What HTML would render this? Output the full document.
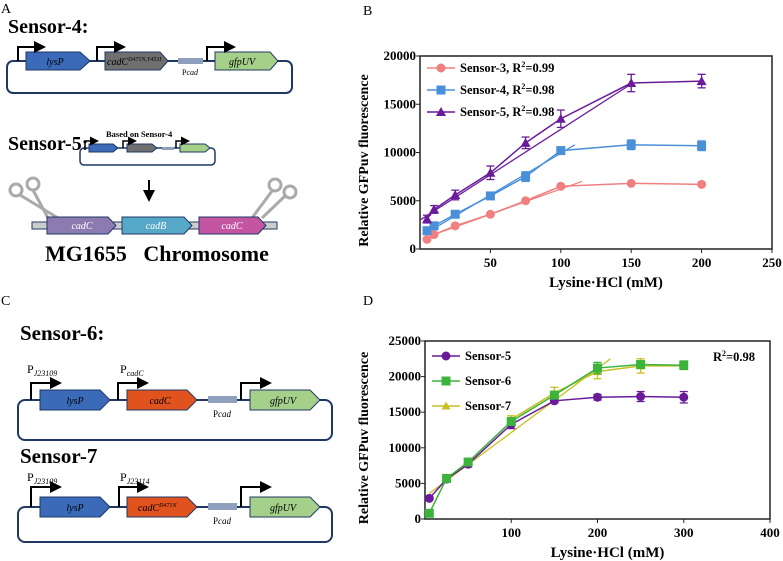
<!DOCTYPE html>
<html><head><meta charset="utf-8"><style>
body{margin:0;background:#fff;width:783px;height:561px;overflow:hidden;font-family:"Liberation Serif",serif}
svg{position:absolute;left:0;top:0}
text{font-family:"Liberation Serif",serif}
</style></head><body>
<svg id="fig" width="783" height="561">
<defs>
<marker id="ah" markerWidth="6" markerHeight="6" refX="4" refY="3" orient="auto"><path d="M0,0 L6,3 L0,6 z" fill="#000"/></marker>
</defs>
<text x="1" y="13" font-size="14" font-family="Liberation Sans">A</text>
<text x="363" y="15" font-size="14" font-family="Liberation Sans">B</text>
<text x="1" y="305" font-size="14" font-family="Liberation Sans">C</text>
<text x="363" y="305" font-size="14" font-family="Liberation Sans">D</text>

<g id="diagA">
<text x="8" y="33" font-size="20" font-weight="bold">Sensor-4:</text>
<rect x="7" y="61" width="285" height="32" rx="6" fill="none" stroke="#1f3864" stroke-width="2"/>
<g>
<path d="M26,52 H80 L90,61 L80,70 H26 Z" fill="#3a6ab8" stroke="#1f3864"/>
<text x="55" y="65" font-size="10" font-style="italic" text-anchor="middle">lysP</text>
<path d="M105,52 H160 L168,61 L160,70 H105 Z" fill="#6f6f6f" stroke="#1f3864"/>
<text x="107" y="65" font-size="10" font-style="italic">cadC<tspan font-size="6" dy="-4">D471N,Y453I</tspan></text>
<rect x="178" y="58" width="25" height="6" fill="#8ea0bd"/>
<text x="190" y="75" font-size="8" text-anchor="middle">P<tspan font-style="italic">cad</tspan></text>
<path d="M215,52 H270 L278,61 L270,70 H215 Z" fill="#a4d08a" stroke="#1f3864"/>
<text x="242" y="65" font-size="10" font-style="italic" text-anchor="middle">gfpUV</text>
<path d="M18,61 V47 H42" fill="none" stroke="#000" stroke-width="2" marker-end="url(#ah)"/>
<path d="M97,61 V47 H122" fill="none" stroke="#000" stroke-width="2" marker-end="url(#ah)"/>
<path d="M207,61 V47 H232" fill="none" stroke="#000" stroke-width="2" marker-end="url(#ah)"/>
</g>
<text x="8" y="150" font-size="20" font-weight="bold">Sensor-5:</text>
<text x="106" y="137" font-size="8.5" font-weight="bold">Based on Sensor-4</text>
<rect x="80" y="148" width="135" height="17" rx="4" fill="none" stroke="#1f3864" stroke-width="1.5"/>
<g>
<path d="M89,144 H113 L118,148 L113,152 H89 Z" fill="#3a6ab8" stroke="#1f3864"/>
<path d="M127,144 H152 L157,148 L152,152 H127 Z" fill="#6f6f6f" stroke="#1f3864"/>
<rect x="162" y="147" width="12" height="3" fill="#8ea0bd"/>
<path d="M180,144 H205 L210,148 L205,152 H180 Z" fill="#a4d08a" stroke="#1f3864"/>
<path d="M85,148 V141 H96" fill="none" stroke="#000" stroke-width="1.5" marker-end="url(#ah)"/>
<path d="M123,148 V141 H134" fill="none" stroke="#000" stroke-width="1.5" marker-end="url(#ah)"/>
<path d="M176,148 V141 H187" fill="none" stroke="#000" stroke-width="1.5" marker-end="url(#ah)"/>
</g>
<line x1="149" y1="180" x2="149" y2="198" stroke="#000" stroke-width="2" marker-end="url(#ah)"/>
<g stroke="#aaa" fill="none" stroke-width="3">
<circle cx="16" cy="190" r="6"/><circle cx="33" cy="184" r="6"/>
<line x1="20" y1="195" x2="58" y2="218"/><line x1="33" y1="190" x2="48" y2="218"/>
</g>
<g stroke="#aaa" fill="none" stroke-width="3">
<circle cx="275" cy="185" r="6"/><circle cx="290" cy="192" r="6"/>
<line x1="272" y1="191" x2="252" y2="218"/><line x1="285" y1="196" x2="262" y2="218"/>
</g>
<rect x="32" y="222" width="245" height="7" fill="#ccc" stroke="#1f3864"/>
<path d="M47,217 H108 L116,225.5 L108,234 H47 Z" fill="#8b7bb0" stroke="#1f3864"/>
<text x="82" y="229" font-size="10" font-style="italic" fill="#fff" text-anchor="middle">cadC</text>
<path d="M122,217 H184 L192,225.5 L184,234 H122 Z" fill="#55a8c8" stroke="#1f3864"/>
<text x="156" y="229" font-size="10" font-style="italic" fill="#fff" text-anchor="middle">cadB</text>
<path d="M199,217 H258 L266,225.5 L258,234 H199 Z" fill="#c455a0" stroke="#1f3864"/>
<text x="232" y="229" font-size="10" font-style="italic" fill="#fff" text-anchor="middle">cadC</text>
<text x="45" y="261" font-size="22" font-weight="bold" xml:space="preserve">MG1655   Chromosome</text>
</g>

<g id="diagC">
<text x="20" y="340" font-size="21" font-weight="bold">Sensor-6:</text>
<rect x="18" y="400" width="314" height="40" rx="7" fill="none" stroke="#1f3864" stroke-width="2"/>
<path d="M40,390 H100 L110,400 L100,410 H40 Z" fill="#3a6ab8" stroke="#1f3864"/>
<text x="75" y="404" font-size="10" font-style="italic" text-anchor="middle">lysP</text>
<path d="M127,390 H187 L197,400 L187,410 H127 Z" fill="#e0521e" stroke="#1f3864"/>
<text x="160" y="404" font-size="10" font-style="italic" text-anchor="middle">cadC</text>
<rect x="208" y="396" width="29" height="7" fill="#8ea0bd"/>
<text x="222" y="417" font-size="9" text-anchor="middle">P<tspan font-style="italic">cad</tspan></text>
<path d="M250,390 H310 L320,400 L310,410 H250 Z" fill="#a4d08a" stroke="#1f3864"/>
<text x="283" y="404" font-size="10" font-style="italic" text-anchor="middle">gfpUV</text>
<path d="M31,400 V383 H58" fill="none" stroke="#000" stroke-width="2" marker-end="url(#ah)"/>
<path d="M118,400 V383 H145" fill="none" stroke="#000" stroke-width="2" marker-end="url(#ah)"/>
<path d="M241,400 V383 H268" fill="none" stroke="#000" stroke-width="2" marker-end="url(#ah)"/>
<text x="27" y="373" font-size="12">P<tspan font-size="8" font-style="italic" dy="3">J23109</tspan></text>
<text x="120" y="373" font-size="12">P<tspan font-size="8" font-style="italic" dy="3">cadC</tspan></text>

<text x="20" y="463" font-size="21" font-weight="bold">Sensor-7</text>
<rect x="18" y="507" width="314" height="35" rx="7" fill="none" stroke="#1f3864" stroke-width="2"/>
<path d="M40,497 H100 L110,507 L100,517 H40 Z" fill="#3a6ab8" stroke="#1f3864"/>
<text x="75" y="511" font-size="10" font-style="italic" text-anchor="middle">lysP</text>
<path d="M127,497 H187 L197,507 L187,517 H127 Z" fill="#e0521e" stroke="#1f3864"/>
<text x="138" y="511" font-size="10" font-style="italic">cadC<tspan font-size="6" dy="-4">D471N</tspan></text>
<rect x="208" y="503" width="29" height="7" fill="#8ea0bd"/>
<text x="222" y="524" font-size="9" text-anchor="middle">P<tspan font-style="italic">cad</tspan></text>
<path d="M250,497 H310 L320,507 L310,517 H250 Z" fill="#a4d08a" stroke="#1f3864"/>
<text x="283" y="511" font-size="10" font-style="italic" text-anchor="middle">gfpUV</text>
<path d="M31,507 V487 H58" fill="none" stroke="#000" stroke-width="2" marker-end="url(#ah)"/>
<path d="M119,507 V487 H145" fill="none" stroke="#000" stroke-width="2" marker-end="url(#ah)"/>
<path d="M241,507 V487 H268" fill="none" stroke="#000" stroke-width="2" marker-end="url(#ah)"/>
<text x="27" y="481" font-size="12">P<tspan font-size="8" font-style="italic" dy="3">J23109</tspan></text>
<text x="120" y="481" font-size="12">P<tspan font-size="8" font-style="italic" dy="3">J23114</tspan></text>
</g>
<g id="chartB"></g>
<g id="chartD"></g>
</svg>
<script>
const NS="http://www.w3.org/2000/svg";
// Chart B data
const bX=[5,10,25,50,75,100,150,200];
const bS3=[1000,1500,2400,3600,5000,6500,6800,6700];
const bS4=[1900,2400,3600,5500,7500,10200,10800,10700];
const bS5=[3100,4100,5600,7900,11000,13500,17200,17400];
const bE5=[400,400,500,700,600,900,900,700];
const bE4=[300,300,300,300,500,300,500,500];
const bXTicks=[50,100,150,200,250];
const bYTicks=[0,5000,10000,15000,20000];
const bFit3=[[10,1500],[115,7000]];
const bFit4=[[5,1700],[110,10800]];
const bFit5=[[0,3000],[150,17100]];
// Chart D data
const dX=[5,25,50,100,150,200,250,300];
const dS5=[2900,5600,7700,13300,16600,17100,17200,17100];
const dS6=[800,5700,8000,13700,17400,21200,21700,21600];
const dS7=[null,null,null,14000,17700,20700,21500,21500];
const dE5=[200,300,400,600,300,400,700,800];
const dE6=[200,200,300,500,400,800,500,600];
const dE7=[0,0,0,500,800,1000,1000,500];
const dXTicks=[100,200,300,400];
const dYTicks=[0,5000,10000,15000,20000,25000];
const dFit7=[[5,3600],[215,22500]];

function el(p,t,a){const e=document.createElementNS(NS,t);for(const k in a)e.setAttribute(k,a[k]);p.appendChild(e);return e;}
function marker(g,shape,x,y,c,r){
  if(shape==='circle')return el(g,'circle',{cx:x,cy:y,r:r,fill:c});
  if(shape==='square')return el(g,'rect',{x:x-r,y:y-r,width:2*r,height:2*r,fill:c});
  return el(g,'path',{d:`M${x},${y-r-1} L${x+r+1},${y+r} L${x-r-1},${y+r} Z`,fill:c});
}
function chart(g,o){
  const sx=v=>o.x0+(v-o.xmin)/(o.xmax-o.xmin)*(o.x1-o.x0);
  const sy=v=>o.y0-(v-o.ymin)/(o.ymax-o.ymin)*(o.y0-o.y1);
  const box=el(g,'rect',{x:o.x0,y:o.y1,width:o.x1-o.x0,height:o.y0-o.y1,fill:'none',stroke:'#222','stroke-width':1.5});
  
  
  o.xt.forEach(v=>{
    el(g,'line',{x1:sx(v),x2:sx(v),y1:o.y0,y2:o.y0+4,stroke:'#222'});
    const t=el(g,'text',{x:sx(v),y:o.y0+18,'font-size':13,'font-weight':'bold','text-anchor':'middle'});t.textContent=v;
    
    
  });
  o.yt.forEach(v=>{
    el(g,'line',{x1:o.x0-4,x2:o.x0,y1:sy(v),y2:sy(v),stroke:'#222'});
    const t=el(g,'text',{x:o.x0-4,y:sy(v)+4,'font-size':13,'font-weight':'bold','text-anchor':'end'});t.textContent=v;
    
    
  });
  const xl=el(g,'text',{x:(o.x0+o.x1)/2+10,y:o.y0+38,'font-size':15,'font-weight':'bold','text-anchor':'middle'});xl.textContent='Lysine·HCl (mM)';
  
  
  const yl=el(g,'text',{x:0,y:0,'font-size':14,'font-weight':'bold','text-anchor':'middle',transform:`translate(${o.ytx},${(o.y0+o.y1)/2+8}) rotate(-90)`});yl.textContent='Relative GFPuv fluorescence';
  
  
  o.fits.forEach(f=>{
    const l=el(g,'line',{x1:sx(f.p[0][0]),y1:sy(f.p[0][1]),x2:sx(f.p[1][0]),y2:sy(f.p[1][1]),stroke:f.c,'stroke-width':1.3});
    
    
  });
  o.series.forEach(s=>{
    const sg=el(g,'g',{});
    
    
    let d='';
    s.y.forEach((v,i)=>{if(v==null)return;d+=(d?'L':'M')+sx(o.xs[i])+','+sy(v);});
    el(sg,'path',{d:d,fill:'none',stroke:s.c,'stroke-width':1.5});
    s.y.forEach((v,i)=>{
      if(v==null)return;
      const e=s.e?s.e[i]:0;
      if(e>0){
        const x=sx(o.xs[i]);
        el(sg,'line',{x1:x,x2:x,y1:sy(v-e),y2:sy(v+e),stroke:s.c,'stroke-width':1.3});
        el(sg,'line',{x1:x-4,x2:x+4,y1:sy(v+e),y2:sy(v+e),stroke:s.c,'stroke-width':1.3});
        el(sg,'line',{x1:x-4,x2:x+4,y1:sy(v-e),y2:sy(v-e),stroke:s.c,'stroke-width':1.3});
      }
      const m=marker(sg,s.m,sx(o.xs[i]),sy(v),s.c,s.r);
      
      
    });
  });
  o.legend.forEach((L,i)=>{
    const lg=el(g,'g',{});
    
    
    const y=o.ly+i*o.lgap;
    el(lg,'line',{x1:o.lx,x2:o.lx+28,y1:y,y2:y,stroke:L.c,'stroke-width':1.5});
    marker(lg,L.m,o.lx+14,y,L.c,L.r);
    const t=el(lg,'text',{x:o.lx+33,y:y+4,'font-size':12.5,'font-weight':'bold'});
    t.innerHTML=L.t;
  });
}
chart(document.getElementById('chartB'),{x0:420,x1:772,y0:249,y1:56,xmin:0,xmax:250,ymin:0,ymax:20000,
  xt:bXTicks,yt:bYTicks,xs:bX,ytx:368,
  fits:[{p:bFit3,c:'#f08080'},{p:bFit4,c:'#4a90d9'},{p:bFit5,c:'#6a1b9a'}],
  series:[{name:'sensor-3',y:bS3,c:'#f08080',m:'circle',r:4.5},
          {name:'sensor-4',y:bS4,e:bE4,c:'#4a90d9',m:'square',r:4.5},
          {name:'sensor-5',y:bS5,e:bE5,c:'#6a1b9a',m:'tri',r:4}],
  legend:[{t:'Sensor-3, R<tspan font-size="8" dy="-5">2</tspan><tspan dy="5">=0.99</tspan>',c:'#f08080',m:'circle',r:4.5},
          {t:'Sensor-4, R<tspan font-size="8" dy="-5">2</tspan><tspan dy="5">=0.98</tspan>',c:'#4a90d9',m:'square',r:4.5},
          {t:'Sensor-5, R<tspan font-size="8" dy="-5">2</tspan><tspan dy="5">=0.98</tspan>',c:'#6a1b9a',m:'tri',r:4}],
  lx:427,ly:68,lgap:22});
chart(document.getElementById('chartD'),{x0:425,x1:770,y0:519,y1:341,xmin:0,xmax:400,ymin:0,ymax:25000,
  xt:dXTicks,yt:dYTicks,xs:dX,ytx:368,
  fits:[{p:dFit7,c:'#c8c020'}],
  series:[{name:'sensor-7',y:dS7,e:dE7,c:'#c8c020',m:'tri',r:3.5},
          {name:'sensor-5',y:dS5,e:dE5,c:'#6a1b9a',m:'circle',r:4.5},
          {name:'sensor-6',y:dS6,e:dE6,c:'#3cb43c',m:'square',r:4.5}],
  legend:[{t:'Sensor-5',c:'#6a1b9a',m:'circle',r:4.5},{t:'Sensor-6',c:'#3cb43c',m:'square',r:4.5},{t:'Sensor-7',c:'#c8c020',m:'tri',r:3.5}],
  lx:432,ly:356,lgap:25});
const r2=el(document.getElementById('chartD'),'text',{x:713,y:361,'font-size':12.5,'font-weight':'bold'});
r2.innerHTML='R<tspan font-size="8" dy="-5">2</tspan><tspan dy="5">=0.98</tspan>';


</script>
</body></html>
